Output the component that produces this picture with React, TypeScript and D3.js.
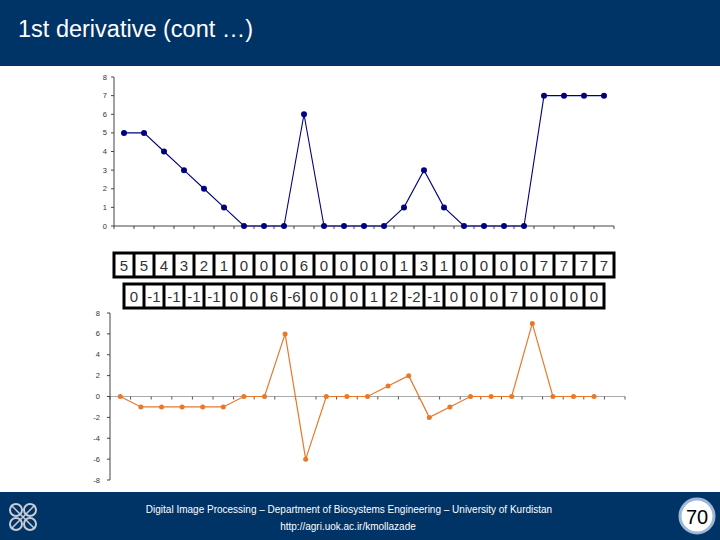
import React from 'react';
import * as d3 from 'd3';

// intensity profile and its 1st derivative
const profile = [5, 5, 4, 3, 2, 1, 0, 0, 0, 6, 0, 0, 0, 0, 1, 3, 1, 0, 0, 0, 0, 7, 7, 7, 7];
const derivative = [0, -1, -1, -1, -1, -1, 0, 0, 6, -6, 0, 0, 0, 1, 2, -2, -1, 0, 0, 0, 7, 0, 0, 0];
// the table row printed on the slide
const tableRow2 = ['0', '-1', '-1', '-1', '-1', '0', '0', '6', '-6', '0', '0', '0', '1', '2', '-2', '-1', '0', '0', '0', '7', '0', '0', '0', '0'];
const topTicks = [0, 1, 2, 3, 4, 5, 6, 7, 8];
const bottomTicks = [-8, -6, -4, -2, 0, 2, 4, 6, 8];

const NAVY = '#003366';
const FONT = 'Arial, "Liberation Sans", sans-serif';

const App: React.FC = () => {
  // top chart scales
  const xTop = d3.scaleBand<number>().domain(d3.range(profile.length)).range([114, 614]);
  const yTop = d3.scaleLinear().domain([0, 8]).range([226, 77]);
  const lineTop = d3.line<number>()
    .x((_, i) => (xTop(i) || 0) + xTop.bandwidth() / 2)
    .y(d => yTop(d));

  // bottom chart scales (one empty category at the end, like Excel)
  const xBot = d3.scaleBand<number>().domain(d3.range(derivative.length + 1)).range([110, 625]);
  const yBot = d3.scaleLinear().domain([-8, 8]).range([480, 313]);
  const lineBot = d3.line<number>()
    .x((_, i) => (xBot(i) || 0) + xBot.bandwidth() / 2)
    .y(d => yBot(d));

  // table cells
  const row1 = d3.scaleBand<number>().domain(d3.range(profile.length)).range([114, 614]);
  const row2 = d3.scaleBand<number>().domain(d3.range(tableRow2.length)).range([124, 604]);

  const renderRow = (scale: d3.ScaleBand<number>, labels: string[], y: number, h: number) => {
    const x0 = scale.range()[0];
    const x1 = scale.range()[1];
    return (
      <g>
        <rect x={x0 - 1.5} y={y - 1.5} width={x1 - x0 + 3} height={h + 3} fill="#000" />
        {labels.map((t, i) => (
          <g key={i}>
            <rect x={(scale(i) || 0) + 1.5} y={y + 1.5} width={scale.bandwidth() - 3} height={h - 3} fill="#fff" />
            <text x={(scale(i) || 0) + scale.bandwidth() / 2} y={y + h / 2 + 5.5} textAnchor="middle"
              fontSize={15} fill="#333" fontFamily={FONT}>{t}</text>
          </g>
        ))}
      </g>
    );
  };

  return (
    <svg width={720} height={540} style={{ position: 'absolute', left: 0, top: 0 }} fontFamily={FONT}>
      <rect x={0} y={0} width={720} height={540} fill="#fff" />
      {/* header */}
      <rect x={0} y={0} width={720} height={66} fill={NAVY} />
      <text x={18} y={37} fill="#fff" fontSize={23.5}>1st derivative (cont …)</text>

      {/* top chart */}
      <g>
        <line x1={114} x2={114} y1={yTop(8)} y2={yTop(0)} stroke="#444" strokeWidth={1} />
        {topTicks.map(t => (
          <g key={t}>
            <line x1={111} x2={114} y1={yTop(t)} y2={yTop(t)} stroke="#444" />
            <text x={107} y={yTop(t) + 2.5} textAnchor="end" fontSize={7.5} fill="#333">{t}</text>
          </g>
        ))}
        <line x1={114} x2={614} y1={yTop(0)} y2={yTop(0)} stroke="#444" />
        {d3.range(profile.length + 1).map(i => {
          const x = 114 + i * xTop.step();
          return <line key={i} x1={x} x2={x} y1={yTop(0)} y2={yTop(0) + 3} stroke="#444" />;
        })}
        <path d={lineTop(profile) || ''} fill="none" stroke="#000080" strokeWidth={1.1} />
        {profile.map((d, i) => (
          <circle key={i} cx={(xTop(i) || 0) + xTop.bandwidth() / 2} cy={yTop(d)} r={3} fill="#000080" />
        ))}
      </g>

      {/* tables */}
      {renderRow(row1, profile.map(String), 253, 24)}
      {renderRow(row2, tableRow2, 284, 24)}

      {/* bottom chart */}
      <g>
        <line x1={110} x2={625} y1={yBot(0)} y2={yBot(0)} stroke="#aaa" />
        {d3.range(derivative.length + 2).map(i => {
          const x = 110 + i * xBot.step();
          return <line key={i} x1={x} x2={x} y1={yBot(0)} y2={yBot(0) + 3} stroke="#555" />;
        })}
        <line x1={110} x2={110} y1={yBot(8)} y2={yBot(-8)} stroke="#444" />
        {bottomTicks.map(t => (
          <g key={t}>
            <line x1={107} x2={110} y1={yBot(t)} y2={yBot(t)} stroke="#444" />
            <text x={100} y={yBot(t) + 2.5} textAnchor="end" fontSize={7.5} fill="#333">{t}</text>
          </g>
        ))}
        <path d={lineBot(derivative) || ''} fill="none" stroke="#E8782A" strokeWidth={1.2} />
        {derivative.map((d, i) => (
          <circle key={i} cx={(xBot(i) || 0) + xBot.bandwidth() / 2} cy={yBot(d)} r={2.5} fill="#E8782A" />
        ))}
      </g>

      {/* footer */}
      <rect x={0} y={492} width={720} height={48} fill={NAVY} />
      <text x={349} y={513} textAnchor="middle" fontSize={10} fill="#fff">
        Digital Image Processing – Department of Biosystems Engineering – University of Kurdistan
      </text>
      <text x={348} y={530} textAnchor="middle" fontSize={10} fill="#fff">http://agri.uok.ac.ir/kmollazade</text>

      {/* logo */}
      <g transform="translate(23,517)" fill="none" stroke="#c8ccd4" strokeWidth={2}>
        <circle cx={-7} cy={-7} r={6} />
        <circle cx={7} cy={-7} r={6} />
        <circle cx={-7} cy={7} r={6} />
        <circle cx={7} cy={7} r={6} />
        <path d="M-12,-12L12,12M12,-12L-12,12" strokeWidth={1.5} />
      </g>

      {/* page number */}
      <circle cx={697} cy={516} r={17} fill="#fff" stroke="#9fb6d6" strokeWidth={3} />
      <text x={697} y={523.5} textAnchor="middle" fontSize={20} fill="#000">70</text>
    </svg>
  );
};

export default App;
